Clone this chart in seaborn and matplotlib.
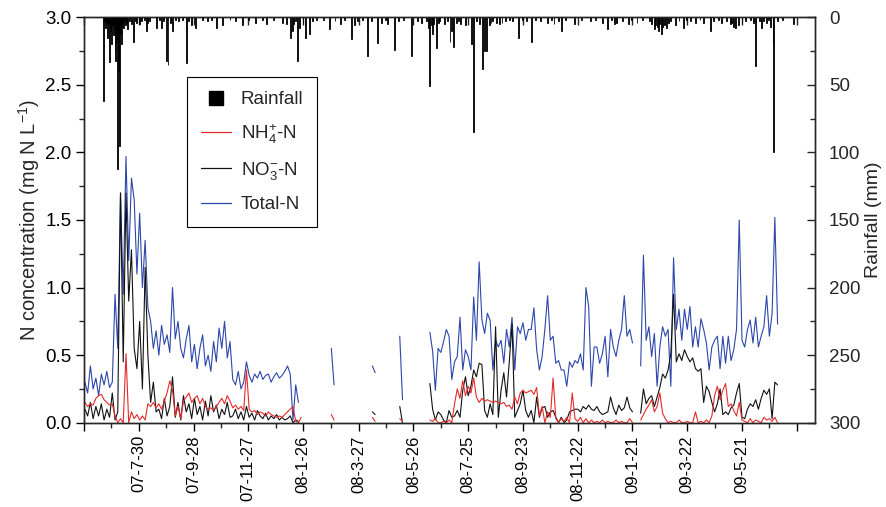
import numpy as np
import pandas as pd
import matplotlib
matplotlib.use("Agg")
import matplotlib.pyplot as plt
from matplotlib.lines import Line2D
import seaborn as sns

nan = np.nan

# ---------------- data ----------------
series_start = "2007-06-01"   # samples every 3 days
rain_start = "2007-05-31"     # rainfall day numbers counted from this date

total_n = ([0.30, 0.22, 0.42, 0.25, 0.33, 0.20, 0.36, 0.28, 0.38, 0.26, 0.30,
            0.95, 0.55, 1.70, 0.95, 1.97, 1.20, 1.81, 1.65, 1.10, 1.55, 1.00, 1.35, 0.85, 0.75,
            0.55, 0.68, 0.50, 0.72, 0.58, 0.65, 0.52, 1.00, 0.62, 0.75, 0.55,
            0.48, 0.62, 0.72, 0.45, 0.58, 0.40, 0.55, 0.65, 0.42, 0.50, 0.38, 0.60, 0.45, 0.70,
            0.55, 0.75, 0.48, 0.60,
            0.32, 0.28, 0.38, 0.25, 0.30, 0.45, 0.35, 0.30, 0.36, 0.33, 0.38, 0.32, 0.35, 0.36,
            0.30, 0.34, 0.37, 0.33, 0.35, 0.38, 0.42, 0.36, 0.02, 0.28, 0.15]
           + [nan] * 11 + [0.55, 0.28] + [nan] * 13 + [0.42, 0.37] + [nan] * 8
           + [0.64, 0.17] + [nan] * 9
           + [0.67, 0.53, 0.24, 0.55, 0.52, 0.60, 0.69, 0.64, 0.32, 0.45,
              0.49, 0.78, 0.39, 0.54, 0.49, 0.39, 0.93, 0.61, 1.19, 0.76]
           + [0.66, 0.81, 0.76, 0.39, 0.61, 0.56, 0.61, 0.44, 0.69, 0.56,
              0.78, 0.39, 0.71, 0.66, 0.74, 0.61, 0.69, 0.69, 0.85, 0.54,
              0.39, 0.49, 0.69, 0.94, 0.61, 0.64, 0.44, 0.46, 0.39, 0.39,
              0.27, 0.45, 0.41, 0.46, 0.44, 0.51, 0.39, 1.00, 0.86, 0.27,
              0.56, 0.56, 0.44, 0.51, 0.64, 0.34, 0.69, 0.56, 0.49, 0.61,
              0.69, 0.94, 0.64, 0.69, 0.59]
           + [nan] * 2
           + [0.42, 1.24, 0.61, 0.71, 0.49, 0.66, 0.27, 0.56, 0.71, 0.64,
              0.69, 0.27, 1.22, 0.69, 0.84, 0.61, 0.84, 0.69, 0.86, 0.56,
              0.71, 0.56, 0.77, 0.69, 0.59, 0.39, 0.56, 0.61, 0.64, 0.40,
              0.64, 0.44, 0.64, 0.46, 0.54, 0.69, 1.50, 0.61, 0.56, 0.69,
              0.76, 0.59, 0.78, 0.56, 0.64, 0.71, 0.94, 0.64, 0.81, 1.52, 0.73])

no3_n = ([0.10, 0.05, 0.15, 0.03, 0.12, 0.05, 0.14, 0.02, 0.10, 0.04, 0.22,
          0.02, 0.08, 1.70, 0.45, 1.70, 0.90, 1.28, 0.55, 0.40, 0.75, 0.25, 1.15, 0.50, 0.15,
          0.30, 0.08,
          0.10, 0.03, 0.18, 0.05, 0.12, 0.34, 0.04, 0.15, 0.02, 0.20, 0.08, 0.14, 0.03, 0.18,
          0.06, 0.12, 0.02, 0.16, 0.05, 0.20, 0.08, 0.13, 0.03, 0.10, 0.06, 0.15, 0.04,
          0.05, 0.10, 0.03, 0.08, 0.02, 0.12, 0.04, 0.07, 0.02, 0.09, 0.05, 0.03, 0.07, 0.02,
          0.05, 0.03, 0.06, 0.02, 0.04, 0.02, 0.03, 0.05, 0.00, 0.02, 0.01]
         + [nan] * 26 + [0.08, 0.06] + [nan] * 8 + [0.12, 0.00] + [nan] * 9
         + [0.29, 0.10, 0.02, 0.08, 0.06, 0.02, 0.00, 0.09, 0.04, 0.05,
            0.09, 0.04, 0.24, 0.34, 0.20, 0.27, 0.39, 0.34, 0.44, 0.43,
            0.09, 0.04, 0.14, 0.06, 0.71, 0.04, 0.24, 0.37, 0.19, 0.45,
            0.73, 0.04, 0.09, 0.14, 0.24, 0.09, 0.04, 0.09, 0.00, 0.19,
            0.04, 0.11, 0.12, 0.04, 0.08, 0.09, 0.04, 0.00, 0.04, 0.00,
            0.02, 0.08, 0.09, 0.10, 0.10, 0.08, 0.12, 0.10, 0.13, 0.10,
            0.09, 0.12, 0.08, 0.06, 0.07, 0.08, 0.19, 0.11, 0.06, 0.13,
            0.09, 0.11, 0.19, 0.11, 0.08]
         + [nan] * 2
         + [0.07, 0.25, 0.14, 0.18, 0.20, 0.12, 0.19, 0.26, 0.36, 0.33,
            0.39, 0.51, 0.95, 0.45, 0.51, 0.46, 0.54, 0.49, 0.45, 0.48,
            0.40, 0.38, 0.40, 0.15, 0.27, 0.23, 0.15, 0.08, 0.14, 0.25,
            0.06, 0.08, 0.06, 0.11, 0.13, 0.22, 0.29, 0.04, 0.03, 0.10,
            0.14, 0.12, 0.17, 0.10, 0.18, 0.24, 0.21, 0.25, 0.03, 0.30, 0.28])

nh4_n = ([0.15, 0.12, 0.14, 0.13, 0.18, 0.20, 0.21, 0.17, 0.15, 0.13, 0.14,
          0.05, 0.00, 0.03, 0.00, 0.51, 0.00, 0.08, 0.03, 0.06, 0.02, 0.05, 0.02,
          0.14, 0.12, 0.15, 0.11, 0.14, 0.10, 0.16, 0.22, 0.31, 0.24, 0.05, 0.12, 0.03,
          0.16, 0.19, 0.22, 0.15, 0.18, 0.20, 0.14, 0.18, 0.12, 0.10, 0.11, 0.09, 0.12, 0.15,
          0.18, 0.14, 0.20, 0.16,
          0.11, 0.13, 0.10, 0.12, 0.09, 0.39, 0.10, 0.08, 0.09, 0.06, 0.08, 0.07, 0.05, 0.08,
          0.06, 0.05, 0.04, 0.05, 0.04, 0.06, 0.08, 0.10, 0.12, 0.01, 0.00, 0.04]
         + [nan] * 10 + [0.06, 0.02] + [nan] * 13 + [0.04, 0.01] + [nan] * 8
         + [0.03, 0.01] + [nan] * 9
         + [0.02, 0.01, 0.03, 0.00, 0.00, 0.01, 0.00, 0.02, 0.00, 0.14,
            0.25, 0.18, 0.31, 0.20, 0.27, 0.22, 0.33, 0.19, 0.15, 0.18,
            0.16, 0.17, 0.16, 0.15, 0.16, 0.15, 0.14, 0.15, 0.12, 0.13,
            0.10, 0.19, 0.14, 0.22, 0.24, 0.22, 0.23, 0.24, 0.21, 0.26,
            0.05, 0.12, 0.00, 0.08, 0.04, 0.33, 0.03, 0.00, 0.03, 0.01,
            0.04, 0.00, 0.22, 0.03, 0.01, 0.04, 0.00, 0.03, 0.00, 0.02,
            0.00, 0.01, 0.00, 0.02, 0.00, 0.01, 0.00, 0.00, 0.02, 0.00,
            0.01, 0.00, 0.00, 0.03, 0.00]
         + [nan] * 2
         + [0.02, 0.06, 0.10, 0.13, 0.17, 0.08, 0.12, 0.22, 0.07, 0.03,
            0.00, 0.01, 0.00, 0.00, 0.02, 0.00, 0.00, 0.01, 0.00, 0.00,
            0.08, 0.00, 0.01, 0.00, 0.02, 0.00, 0.05, 0.20, 0.27, 0.17,
            0.24, 0.29, 0.12, 0.14, 0.09, 0.05, 0.15, 0.02, 0.01, 0.00,
            0.03, 0.00, 0.02, 0.01, 0.00, 0.04, 0.02, 0.03, 0.01, 0.04, 0.00])

rain_day = [21, 22, 24, 25, 26, 27, 28, 29, 30, 31,
            32, 33, 34, 35, 36, 37, 38, 39, 40, 41,
            42, 43, 44, 45, 47, 48, 50, 52, 54, 56,
            58, 61, 63, 66, 68, 70, 72, 79, 83, 85,
            87, 90, 92, 95, 97, 100, 104, 108, 112, 115,
            118, 122, 130, 135, 140, 145, 152, 160, 166, 174,
            180, 188, 196, 200, 208, 218, 222, 226, 228, 230,
            232, 234, 236, 240, 243, 247, 250, 255, 262, 269,
            275, 281, 285, 293, 296, 300, 305, 311, 315, 322,
            326, 330, 333, 340, 345, 350, 359, 365, 370, 375,
            377, 379, 381, 382, 383, 386, 388, 390, 395, 398,
            401, 403, 405, 408, 410, 413, 418, 425, 427, 430,
            433, 437, 439, 441, 444, 446, 448, 452, 455, 458,
            462, 466, 470, 476, 480, 485, 490, 495, 500, 508,
            512, 515, 520, 523, 528, 537, 545, 555, 560, 568,
            574, 578, 581, 583, 590, 597, 600, 606, 612, 620,
            622, 625, 626, 628, 630, 631, 633, 634, 636, 638,
            640, 643, 648, 652, 657, 660, 665, 670, 675, 679,
            686, 690, 695, 699, 704, 708, 710, 712, 714, 717,
            721, 725, 730, 734, 736, 740, 742, 745, 748, 750,
            752, 755, 756, 760, 765, 777]
rain_mm = [62, 3, 8, 4, 15, 5, 33, 10, 20, 6,
           13, 9, 25, 32, 18, 112, 40, 95, 12, 20,
           5, 8, 3, 6, 4, 9, 3, 5, 18, 3,
           4, 5, 3, 2, 10, 4, 3, 8, 2, 8,
           3, 32, 35, 4, 10, 2, 3, 2, 34, 3,
           6, 8, 2, 3, 2, 8, 6, 2, 3, 6,
           2, 4, 2, 5, 2, 4, 5, 15, 10, 5,
           3, 32, 8, 4, 15, 12, 3, 2, 2, 9,
           3, 5, 2, 16, 6, 3, 2, 29, 3, 19,
           4, 2, 5, 24, 3, 2, 29, 3, 4, 3,
           8, 51, 6, 12, 5, 23, 4, 3, 5, 3,
           18, 10, 22, 4, 3, 5, 6, 20, 85, 3,
           5, 38, 25, 25, 6, 4, 3, 4, 5, 4,
           3, 2, 3, 15, 2, 3, 18, 2, 3, 4,
           2, 5, 3, 10, 2, 5, 2, 3, 2, 4,
           9, 2, 5, 4, 3, 5, 2, 4, 2, 3,
           5, 9, 6, 7, 10, 5, 12, 7, 6, 8,
           4, 3, 6, 3, 8, 2, 3, 4, 2, 4,
           10, 3, 2, 4, 3, 5, 4, 7, 8, 6,
           4, 3, 2, 4, 36, 3, 8, 3, 4, 2,
           7, 20, 100, 3, 2, 5]

tick_dates = ["2007-05-31", "2007-07-30", "2007-09-28", "2007-11-27", "2008-01-26",
              "2008-03-27", "2008-05-26", "2008-07-25", "2008-09-23", "2008-11-22",
              "2009-01-21", "2009-03-22", "2009-05-21", "2009-07-20"]
tick_labels = ["", "07-7-30", "07-9-28", "07-11-27", "08-1-26", "08-3-27", "08-5-26",
               "08-7-25", "08-9-23", "08-11-22", "09-1-21", "09-3-22", "09-5-21", ""]

legend_labels = ["Rainfall", r"NH$_4^{+}$-N", r"NO$_3^{-}$-N", "Total-N"]
colors = {"nh4": "#e62a2a", "no3": "#111111", "tn": "#2c46aa"}

# ---------------- figure ----------------
sns.set_theme(style="ticks")
plt.rcParams["font.family"] = ["Liberation Sans", "DejaVu Sans"]
plt.rcParams["mathtext.default"] = "regular"
plt.rcParams["axes.linewidth"] = 1.0

n = max(len(total_n), len(no3_n), len(nh4_n))
def pad(v):
    return list(v) + [nan] * (n - len(v))

dates = pd.date_range(series_start, periods=n, freq="3D")

def frame(vals):
    s = pd.Series(pad(vals), dtype=float)
    df = pd.DataFrame({"date": dates, "val": s.values, "seg": s.isna().cumsum().values})
    return df.dropna()

fig = plt.figure(figsize=(8.86, 5.07), dpi=100)
ax = fig.add_axes([84 / 886, 1 - 422.7 / 507, (815 - 84) / 886, 405.4 / 507])

for key, vals in (("tn", total_n), ("no3", no3_n), ("nh4", nh4_n)):
    sns.lineplot(data=frame(vals), x="date", y="val", units="seg", estimator=None,
                 color=colors[key], linewidth=0.8, ax=ax, legend=False)

ax.set_ylim(0, 3.0)
ax.set_xlim(pd.Timestamp("2007-05-31"), pd.Timestamp("2009-08-09"))
ax.set_yticks(np.arange(0, 3.01, 0.5))
ax.set_yticks(np.arange(0.25, 3.0, 0.5), minor=True)
ax.yaxis.set_major_formatter(matplotlib.ticker.FormatStrFormatter("%.1f"))

tick_ts = pd.to_datetime(tick_dates)
ax.set_xticks(tick_ts)
ax.set_xticklabels(tick_labels, rotation=90)
minor_ts = [tick_ts[i] + (tick_ts[i + 1] - tick_ts[i]) / 2 for i in range(len(tick_ts) - 1)]
ax.set_xticks(minor_ts, minor=True)

ax.tick_params(axis="both", which="major", direction="out", length=6, width=1.0,
               colors="black", pad=3)
ax.tick_params(axis="x", which="major", labelsize=12)
ax.tick_params(axis="y", which="major", labelsize=13.5)
ax.tick_params(axis="both", which="minor", direction="out", length=3.5, width=1.0)
ax.tick_params(axis="x", top=False)
ax.tick_params(axis="y", right=False)
ax.set_xlabel("")
ax.set_ylabel(r"N concentration (mg N L$^{-1}$)", fontsize=14.5, labelpad=2)

# rainfall on inverted right axis
ax2 = ax.twinx()
rain_ts = pd.Timestamp(rain_start) + pd.to_timedelta(rain_day, unit="D")
ax2.bar(rain_ts, rain_mm, width=1.0, color="black", edgecolor="black", linewidth=0.6)
ax2.set_ylim(300, 0)
ax2.set_yticks(np.arange(0, 301, 50))
ax2.set_yticks(np.arange(25, 300, 50), minor=True)
ax2.tick_params(axis="y", which="major", direction="in", length=6, width=1.0,
                labelsize=13.5, pad=10)
ax2.tick_params(axis="y", which="minor", direction="in", length=3.5, width=1.0)
ax2.set_ylabel("Rainfall (mm)", fontsize=14, labelpad=3)
ax2.xaxis.set_visible(True)
ax2.tick_params(axis="x", which="both", top=True, bottom=False, labeltop=False,
                labelbottom=False, direction="in")
ax2.tick_params(axis="x", which="major", length=6, width=1.0)
ax2.tick_params(axis="x", which="minor", length=0)
ax2.set_xlim(ax.get_xlim())

handles = [Line2D([], [], marker="s", color="black", linestyle="none", markersize=10),
           Line2D([], [], color=colors["nh4"], linewidth=0.9),
           Line2D([], [], color=colors["no3"], linewidth=0.9),
           Line2D([], [], color=colors["tn"], linewidth=0.9)]
leg = ax.legend(handles, legend_labels, loc="upper left", bbox_to_anchor=(0.141, 0.853),
                borderaxespad=0, frameon=True, fancybox=False, fontsize=13.5,
                handlelength=1.6, handletextpad=0.5, labelspacing=0.75,
                borderpad=0.75, framealpha=1)
leg.get_frame().set_edgecolor("black")
leg.get_frame().set_linewidth(0.8)
leg.set_zorder(5)

fig.savefig("out.png", dpi=100)
